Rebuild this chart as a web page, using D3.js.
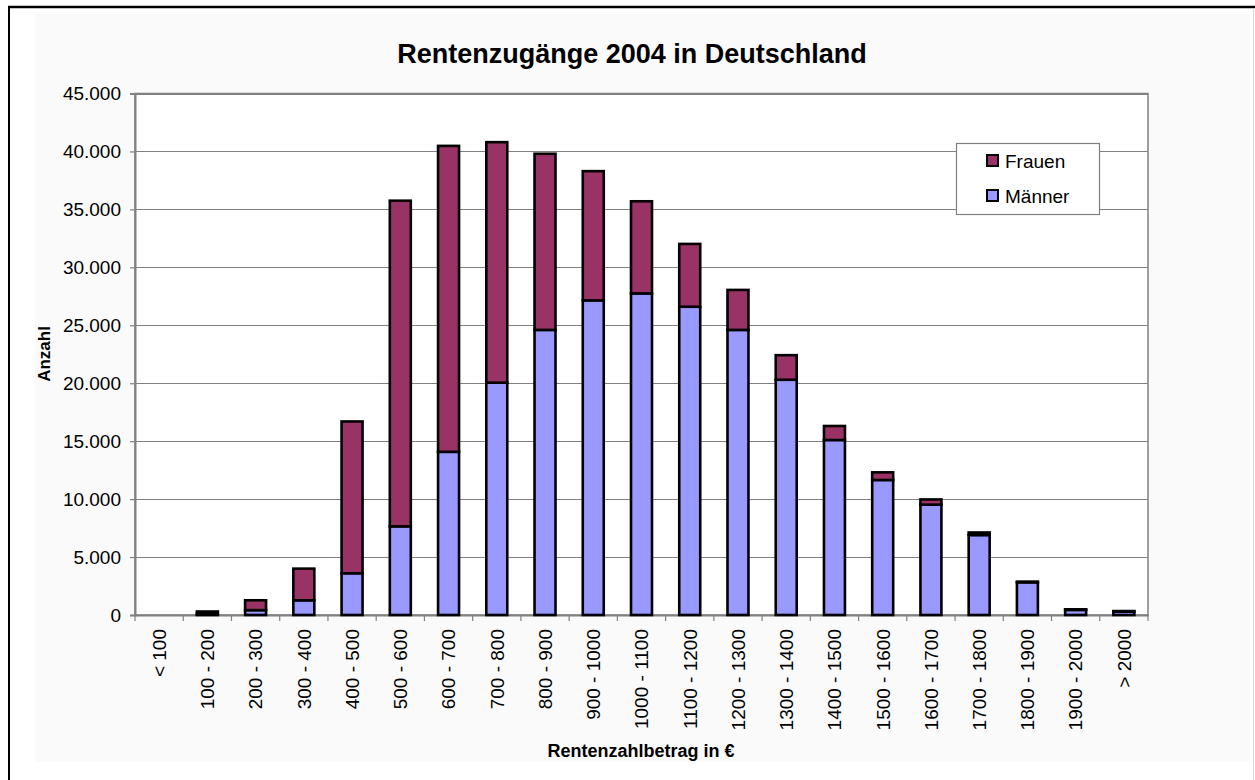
<!DOCTYPE html>
<html>
<head>
<meta charset="utf-8">
<script src="https://cdn.jsdelivr.net/npm/d3@7"></script>
<style>
  html, body { margin: 0; padding: 0; background: #ffffff; }
  svg { display: block; font-family: "Liberation Sans", Arial, sans-serif; }
</style>
</head>
<body>
<svg id="chart" width="1255" height="780"></svg>
<script>
// Pension income brackets (€ per month)
const categories = ["< 100", "100 - 200", "200 - 300", "300 - 400", "400 - 500", "500 - 600",
  "600 - 700", "700 - 800", "800 - 900", "900 - 1000", "1000 - 1100", "1100 - 1200",
  "1200 - 1300", "1300 - 1400", "1400 - 1500", "1500 - 1600", "1600 - 1700", "1700 - 1800",
  "1800 - 1900", "1900 - 2000", "> 2000"];

// New pensions 2004, men
const maenner = [0, 100, 420, 1270, 3600, 7650, 14080, 20050, 24600, 27150, 27750, 26600,
  24600, 20300, 15100, 11650, 9520, 6900, 2820, 440, 290];

// New pensions 2004, women
const frauen = [0, 200, 850, 2730, 13100, 28100, 26400, 20750, 15200, 11150, 7950, 5420,
  3450, 2120, 1210, 660, 450, 220, 60, 50, 50];

const yTicks = [0, 5000, 10000, 15000, 20000, 25000, 30000, 35000, 40000, 45000];

const seriesNames = ["Männer", "Frauen"];
const seriesColors = { "Männer": "#9999ff", "Frauen": "#993366" };

const de = d3.formatLocale({ decimal: ",", thousands: ".", grouping: [3], currency: ["", " €"] });
const fmt = de.format(",d");

const svg = d3.select("#chart");

// Outer frame and chart area
svg.append("rect").attr("x", 35).attr("y", 14).attr("width", 1215).attr("height", 748)
  .attr("fill", "#fafafa");
svg.append("line").attr("x1", 8).attr("x2", 1255).attr("y1", 7).attr("y2", 7)
  .attr("stroke", "#000").attr("stroke-width", 2.5);
svg.append("line").attr("x1", 9).attr("x2", 9).attr("y1", 6).attr("y2", 780)
  .attr("stroke", "#000").attr("stroke-width", 2);
svg.append("line").attr("x1", 1253.5).attr("x2", 1253.5).attr("y1", 8).attr("y2", 780)
  .attr("stroke", "#d8d8d8").attr("stroke-width", 1);

const margin = { left: 135, right: 1148, top: 93.5, bottom: 615 };

const x = d3.scaleBand().domain(categories).range([margin.left, margin.right]).padding(0);
const y = d3.scaleLinear().domain([0, 45000]).range([margin.bottom, margin.top]);

// Plot area
svg.append("rect")
  .attr("x", margin.left).attr("y", margin.top)
  .attr("width", margin.right - margin.left).attr("height", margin.bottom - margin.top)
  .attr("fill", "#ffffff").attr("stroke", "#808080").attr("stroke-width", 1.5);

// Horizontal gridlines
svg.append("g").selectAll("line").data(yTicks.filter(d => d > 0)).join("line")
  .attr("x1", margin.left).attr("x2", margin.right)
  .attr("y1", d => Math.round(y(d)) + 0.5).attr("y2", d => Math.round(y(d)) + 0.5)
  .attr("stroke", "#808080").attr("stroke-width", 1.2);

// Y axis
const yAxis = svg.append("g").attr("transform", `translate(${margin.left},0)`)
  .call(d3.axisLeft(y).tickValues(yTicks).tickFormat(fmt).tickSize(5).tickPadding(9));
yAxis.select(".domain").attr("stroke", "#808080").attr("stroke-width", 2);
yAxis.selectAll(".tick line").attr("stroke", "#808080").attr("stroke-width", 1.2);
yAxis.selectAll(".tick text").attr("font-size", 19).attr("fill", "#000")
  .attr("font-family", "Liberation Sans, Arial, sans-serif");

// X axis with labels rotated
const xAxis = svg.append("g").attr("transform", `translate(0,${margin.bottom})`)
  .call(d3.axisBottom(x).tickSize(0).tickPadding(0));
xAxis.select(".domain").attr("stroke", "#808080").attr("stroke-width", 2);
xAxis.selectAll(".tick text")
  .attr("font-size", 19).attr("fill", "#000")
  .attr("font-family", "Liberation Sans, Arial, sans-serif")
  .attr("text-anchor", "end")
  .attr("transform", "rotate(-90)")
  .attr("x", -14).attr("y", 0).attr("dy", "0.36em");

// Category boundary ticks
const bounds = categories.map(c => x(c)).concat([x(categories[categories.length - 1]) + x.bandwidth()]);
xAxis.append("g").selectAll("line").data(bounds).join("line")
  .attr("x1", d => d).attr("x2", d => d).attr("y1", 0).attr("y2", 6)
  .attr("stroke", "#808080").attr("stroke-width", 1.2);

// Stacked bars
const rows = categories.map((c, i) => ({ cat: c, "Männer": maenner[i], "Frauen": frauen[i] }));
const stacked = d3.stack().keys(seriesNames)(rows);
const barW = x.bandwidth() * 0.435;

svg.append("g").selectAll("g").data(stacked).join("g")
  .attr("fill", d => seriesColors[d.key])
  .selectAll("rect").data(d => d.filter(p => p[1] - p[0] > 0)).join("rect")
  .attr("x", d => x(d.data.cat) + (x.bandwidth() - barW) / 2)
  .attr("width", barW)
  .attr("y", d => y(d[1]))
  .attr("height", d => y(d[0]) - y(d[1]))
  .attr("stroke", "#000").attr("stroke-width", 2.6);

// Title
svg.append("text").attr("x", 632).attr("y", 63).attr("text-anchor", "middle")
  .attr("font-size", 27).attr("font-weight", "bold").attr("fill", "#000")
  .text("Rentenzugänge 2004 in Deutschland");

// Axis titles
svg.append("text").attr("transform", "translate(50,354) rotate(-90)")
  .attr("text-anchor", "middle").attr("font-size", 17).attr("font-weight", "bold")
  .text("Anzahl");
svg.append("text").attr("x", 641).attr("y", 757).attr("text-anchor", "middle")
  .attr("font-size", 18).attr("font-weight", "bold")
  .text("Rentenzahlbetrag in €");

// Legend
const legend = svg.append("g");
legend.append("rect").attr("x", 956.5).attr("y", 143.5).attr("width", 143).attr("height", 71)
  .attr("fill", "#fff").attr("stroke", "#808080").attr("stroke-width", 1.2);
const legendItems = ["Frauen", "Männer"];
legend.selectAll("g.item").data(legendItems).join("g").attr("class", "item")
  .attr("transform", (d, i) => `translate(987,${155 + i * 35})`)
  .each(function (d) {
    const g = d3.select(this);
    g.append("rect").attr("x", 0).attr("y", 0).attr("width", 11).attr("height", 11)
      .attr("fill", seriesColors[d]).attr("stroke", "#000").attr("stroke-width", 2);
    g.append("text").attr("x", 18).attr("y", 12.5).attr("font-size", 19).attr("fill", "#000").text(d);
  });
</script>
</body>
</html>
